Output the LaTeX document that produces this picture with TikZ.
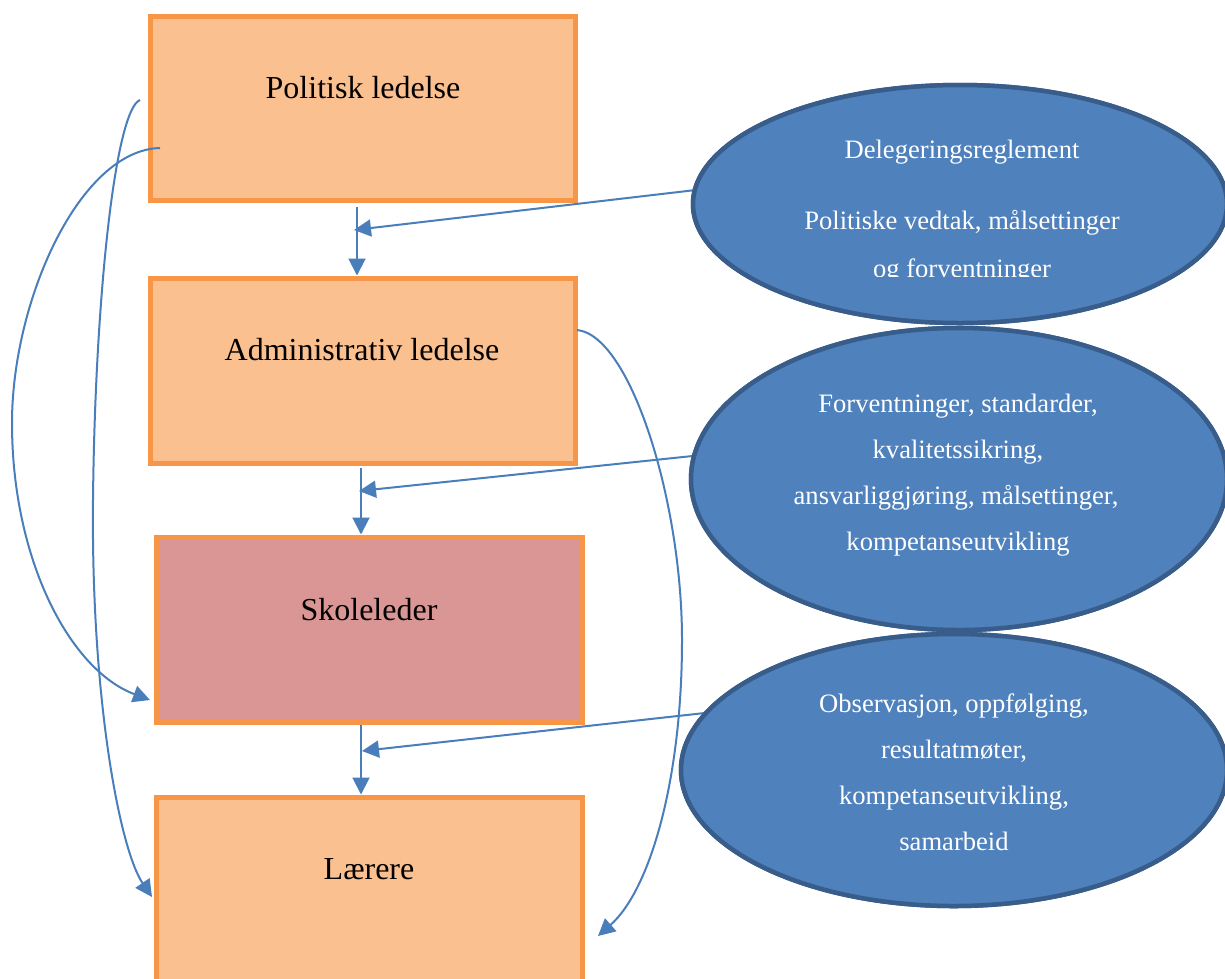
\documentclass[tikz,border=0pt]{standalone}
\usepackage{fontspec}
\setmainfont{Liberation Serif}
\usetikzlibrary{arrows.meta,shapes.geometric}
\definecolor{boxfill}{HTML}{FAC090}
\definecolor{boxline}{HTML}{F79646}
\definecolor{skolefill}{HTML}{D99694}
\definecolor{ellfill}{HTML}{4F81BD}
\definecolor{ellline}{HTML}{385D8A}
\definecolor{conn}{HTML}{4A7EBB}
\begin{document}
\begin{tikzpicture}[x=1pt,y=-1pt,
  orgbox/.style={draw=boxline,line width=5pt,rectangle,inner sep=0pt,outer sep=0pt,anchor=north west},
  boxtext/.style={font=\fontsize{32}{38}\selectfont,anchor=base,inner sep=0pt},
  ell/.style={draw=ellline,fill=ellfill,line width=4.5pt,ellipse,inner sep=0pt,outer sep=0pt},
  elltext/.style={font=\fontsize{26.6}{46}\selectfont,text=white,anchor=base,inner sep=0pt},
  conline/.style={draw=conn,line width=2pt},
  conarrow/.style={conline,-{Triangle[length=17pt,width=17pt]}}
]
\useasboundingbox (0,0) rectangle (1225,978);
\clip (0,0) rectangle (1225,978);

% boxes
\node[orgbox,fill=boxfill,minimum width=425pt,minimum height=184pt] (b1) at (150,16) {};
\node[orgbox,fill=boxfill,minimum width=425pt,minimum height=185pt] (b2) at (150,278) {};
\node[orgbox,fill=skolefill,minimum width=426pt,minimum height=185pt] (b3) at (156,537) {};
\node[orgbox,fill=boxfill,minimum width=426pt,minimum height=190pt] (b4) at (156,797) {};

\node[boxtext] (t1) at (363,98) {Politisk ledelse};
\node[boxtext] (t2) at (362,360) {Administrativ ledelse};
\node[boxtext] (t3) at (369,620) {Skoleleder};
\node[boxtext] (t4) at (369,879) {Lærere};

% ellipses (named first for anchors)
\node[ell,minimum width=534pt,minimum height=238pt] (e1) at (960,204) {};
\node[ell,minimum width=536pt,minimum height=302pt] (e2) at (959,479) {};
\node[ell,minimum width=546pt,minimum height=272pt] (e3) at (954,770) {};

% coordinates
\coordinate (a1s) at (357,207);
\coordinate (a2s) at (361,468);
\coordinate (a3s) at (361,725);
\coordinate (d1e) at (354,230);
\coordinate (d2e) at (359,491);
\coordinate (d3e) at (362,751);
\coordinate (c1s) at (140,100);
\coordinate (c1m) at (93,500);
\coordinate (c1e) at (152,897);
\coordinate (c2s) at (160,148);
\coordinate (c2m) at (12,423);
\coordinate (c2e) at (150,700);
\coordinate (c3s) at (577,330);
\coordinate (c3m) at (682,640);
\coordinate (c3e) at (598,936);

% vertical arrows
\draw[conarrow,shorten >=2.5pt] (a1s) -- (b2.north -| a1s);
\draw[conarrow,shorten >=2.5pt] (a2s) -- (b3.north -| a2s);
\draw[conarrow,shorten >=2.5pt] (a3s) -- (b4.north -| a3s);

% curves
\draw[conarrow] (c1s) .. controls (115,110) and (95,300) .. (c1m)
  .. controls (91,700) and (120,850) .. (c1e);
\draw[conarrow] (c2s) .. controls (80,150) and (12,300) .. (c2m)
  .. controls (12,560) and (70,670) .. (c2e);
\draw[conarrow] (c3s) .. controls (630,335) and (682,500) .. (c3m)
  .. controls (682,780) and (650,890) .. (c3e);

% diagonal arrows
\draw[conarrow] (e1.177) -- (d1e);
\draw[conarrow] (e2.175) -- (d2e);
\draw[conarrow] (e3.167) -- (d3e);

% redraw ellipses on top
\node[ell,minimum width=534pt,minimum height=238pt] (e1b) at (960,204) {};
\node[ell,minimum width=536pt,minimum height=302pt] (e2b) at (959,479) {};
\node[ell,minimum width=546pt,minimum height=272pt] (e3b) at (954,770) {};

% ellipse texts
\begin{scope}
\clip (600,0) rectangle (1225,276);
\node[elltext] (e1l1) at (962,158) {Delegeringsreglement};
\node[elltext] (e1l2) at (962,229) {Politiske vedtak, målsettinger};
\node[elltext] (e1l3) at (962,277) {og forventninger};
\end{scope}

\node[elltext] (e2l1) at (958,412) {Forventninger, standarder,};
\node[elltext] (e2l2) at (958,458) {kvalitetssikring,};
\node[elltext] (e2l3) at (956,504) {ansvarliggjøring, målsettinger,};
\node[elltext] (e2l4) at (958,550) {kompetanseutvikling};

\node[elltext] (e3l1) at (954,712) {Observasjon, oppfølging,};
\node[elltext] (e3l2) at (954,758) {resultatmøter,};
\node[elltext] (e3l3) at (954,804) {kompetanseutvikling,};
\node[elltext] (e3l4) at (954,850) {samarbeid};
\end{tikzpicture}
\end{document}
